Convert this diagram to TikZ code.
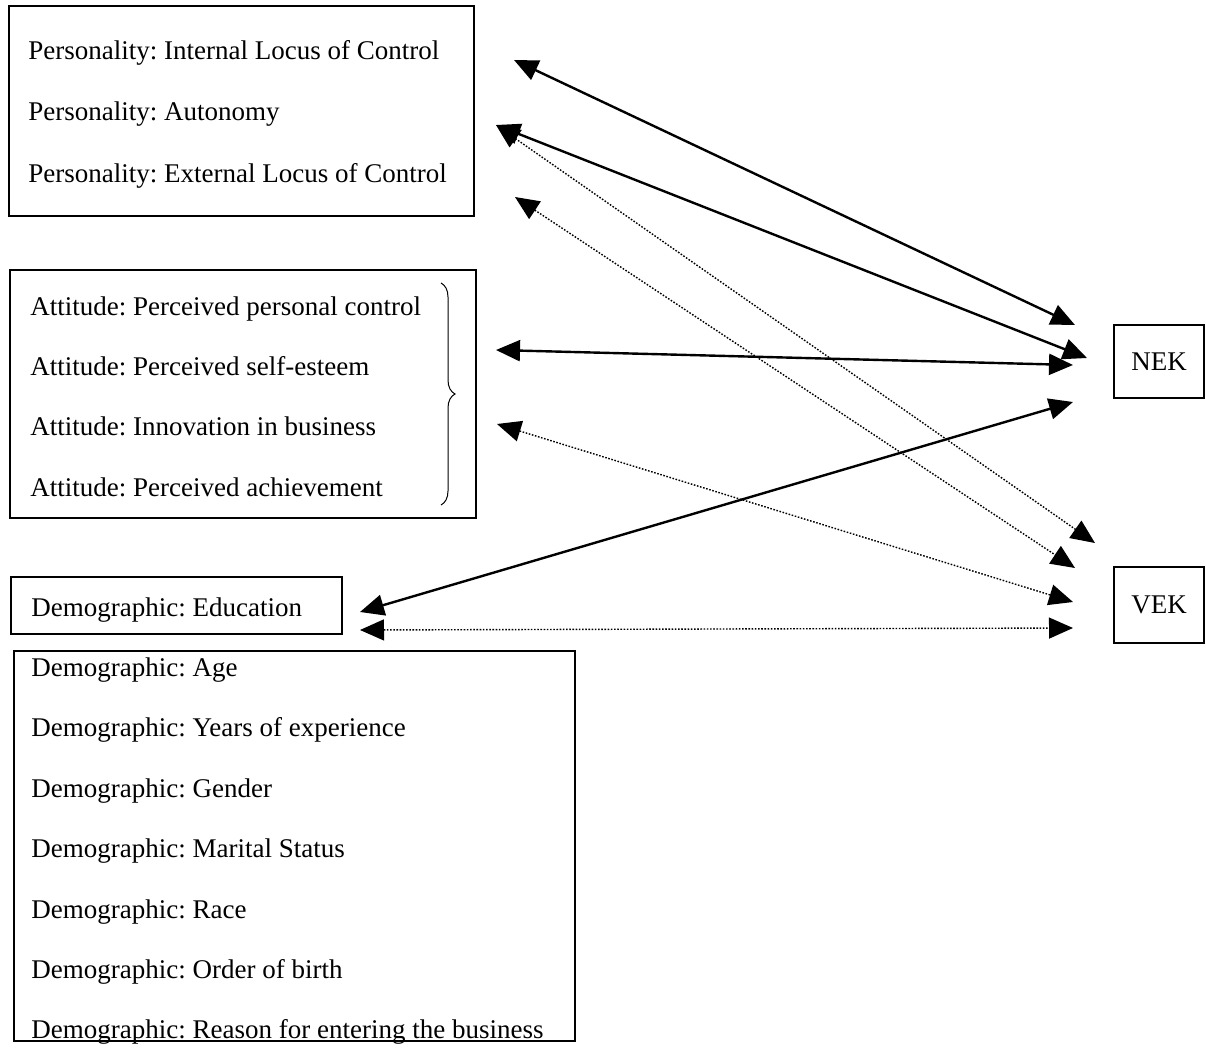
\documentclass[tikz,border=0pt]{standalone}
\usepackage{fontspec}
\setmainfont{Liberation Serif}
\frenchspacing
\usetikzlibrary{arrows.meta,decorations.pathreplacing}
\tikzset{
	box/.style={draw,line width=0.9pt,inner sep=0pt},
	txt/.style={font=\fontsize{13.5pt}{16pt}\selectfont},
	item/.style={txt,anchor=base west,inner sep=0pt},
	link/.style={{Triangle[length=12pt,width=10.5pt]}-{Triangle[length=12pt,width=10.5pt]},line width=1.2pt},
	weak/.style={link,line width=0.7pt,dash pattern=on 0.8pt off 0.8pt}
}
\begin{document}
\begin{tikzpicture}[x=0.5pt,y=-0.5pt]
	\useasboundingbox (0,0) rectangle (1206,1049);

	% groups
	\node [box,minimum width=232.5pt,minimum height=105pt](pers) at (241.5,111) {};
	\node [box,minimum width=233pt,minimum height=124pt](att) at (243,394) {};
	\node [box,minimum width=165.5pt,minimum height=28.5pt](edu) at (176.5,605.5) {};
	\node [box,minimum width=280.5pt,minimum height=195pt](dem) at (294.5,846) {};
	\node [box,txt,minimum width=45pt,minimum height=36.5pt](nek) at (1159,361.5) {NEK};
	\node [box,txt,minimum width=45pt,minimum height=38pt](vek) at (1159,605) {VEK};

	\node [item](ilc) at (28,59) {Personality: Internal Locus of Control};
	\node [item](auto) at (28,120) {Personality: Autonomy};
	\node [item](elc) at (28,182) {Personality: External Locus of Control};

	\node [item](ppc) at (30,315) {Attitude: Perceived personal control};
	\node [item](pse) at (30,375) {Attitude: Perceived self-esteem};
	\node [item](inno) at (30,435) {Attitude: Innovation in business};
	\node [item](pach) at (30,496) {Attitude: Perceived achievement};
	\draw [decorate,decoration={brace,amplitude=7pt},line width=0.5pt] (441,283) -- (441,505);

	\node [item](educ) at (31,616) {Demographic: Education};
	\node [item](age) at (31,676) {Demographic: Age};
	\node [item](yexp) at (31,736) {Demographic: Years of experience};
	\node [item](gen) at (31,797) {Demographic: Gender};
	\node [item](mar) at (31,857) {Demographic: Marital Status};
	\node [item](race) at (31,918) {Demographic: Race};
	\node [item](ord) at (31,978) {Demographic: Order of birth};
	\node [item](reas) at (31,1038) {Demographic: Reason for entering the business};

	% arrow ends
	\coordinate (ilcR) at (514,60);
	\coordinate (autoR) at (496,125);
	\coordinate (elcR) at (515,197);
	\coordinate (pseR) at (496,350);
	\coordinate (innoR) at (497,424);
	\coordinate (eduR) at (360,612);
	\coordinate (eduR2) at (360,630);
	\coordinate (nek1) at (1075,325);
	\coordinate (nek2) at (1087,358);
	\coordinate (nek3) at (1073,365);
	\coordinate (nek4) at (1073,402);
	\coordinate (vek1) at (1095,543);
	\coordinate (vek2) at (1075,568);
	\coordinate (vek3) at (1073,602);
	\coordinate (vek4) at (1073,628);

	\draw [link] (ilcR) -- (nek1);
	\draw [link] (autoR) -- (nek2);
	\draw [weak] (autoR) -- (vek1);
	\draw [weak] (elcR) -- (vek2);
	\draw [link] (pseR) -- (nek3);
	\draw [weak] (innoR) -- (vek3);
	\draw [link] (eduR) -- (nek4);
	\draw [weak] (eduR2) -- (vek4);
\end{tikzpicture}
\end{document}
